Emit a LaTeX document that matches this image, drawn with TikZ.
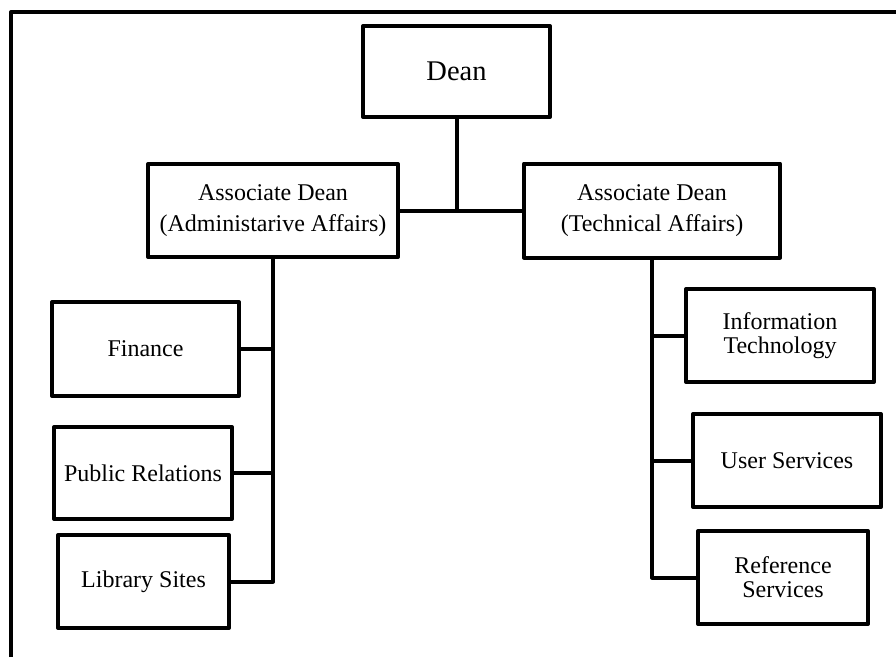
\documentclass[tikz,border=0pt]{standalone}
\usepackage{fontspec}
\setmainfont{Liberation Serif}
\begin{document}
\begin{tikzpicture}[x=1pt,y=-1pt,
  line width=4pt, line join=round,
  orgbox/.style={draw, rectangle, inner sep=0pt, outer sep=0pt, align=center,
    font=\fontsize{24}{24}\selectfont},
  wide/.style={font=\fontsize{24}{31}\selectfont},
  link/.style={draw, line width=4pt}]
\useasboundingbox (0,0) rectangle (896,657);
% frame (only top and left edges visible)
\coordinate (fbl) at (11,657);
\coordinate (ftr) at (896,12);
\draw (fbl) |- (ftr);
% boxes
\node[orgbox, minimum width=187pt, minimum height=91pt, font=\fontsize{28.5}{30}\selectfont] (dean) at (456.5,71.5) {Dean};
\node[orgbox, wide, minimum width=250pt, minimum height=93pt] (adl) at (273,210.5) {Associate Dean\\(Administarive Affairs)};
\node[orgbox, wide, minimum width=256pt, minimum height=94pt] (adr) at (652,210.5) {Associate Dean\\(Technical Affairs)};
\node[orgbox, minimum width=187pt, minimum height=94pt] (fin) at (145.5,349) {Finance};
\node[orgbox, minimum width=178pt, minimum height=92pt] (pr) at (143,473) {Public Relations};
\node[orgbox, minimum width=171pt, minimum height=93pt] (lib) at (143.5,581.5) {Library Sites};
\node[orgbox, minimum width=188pt, minimum height=93pt] (it) at (780,335.5) {Information\\Technology};
\node[orgbox, minimum width=188pt, minimum height=93pt] (us) at (787,460.5) {User Services};
\node[orgbox, minimum width=170pt, minimum height=93pt] (rs) at (783,577.5) {Reference\\Services};
% connectors
\draw[link] (adl.east) -- (adr.west);
\draw[link] (dean.south) -- (dean.south |- adl.east);
\draw[link] (adl.south) |- (lib.east);
\draw[link] (fin.east) -- (fin.east -| adl.south);
\draw[link] (pr.east) -- (pr.east -| adl.south);
\draw[link] (adr.south) |- (rs.west);
\draw[link] (it.west) -- (it.west -| adr.south);
\draw[link] (us.west) -- (us.west -| adr.south);
\end{tikzpicture}
\end{document}
